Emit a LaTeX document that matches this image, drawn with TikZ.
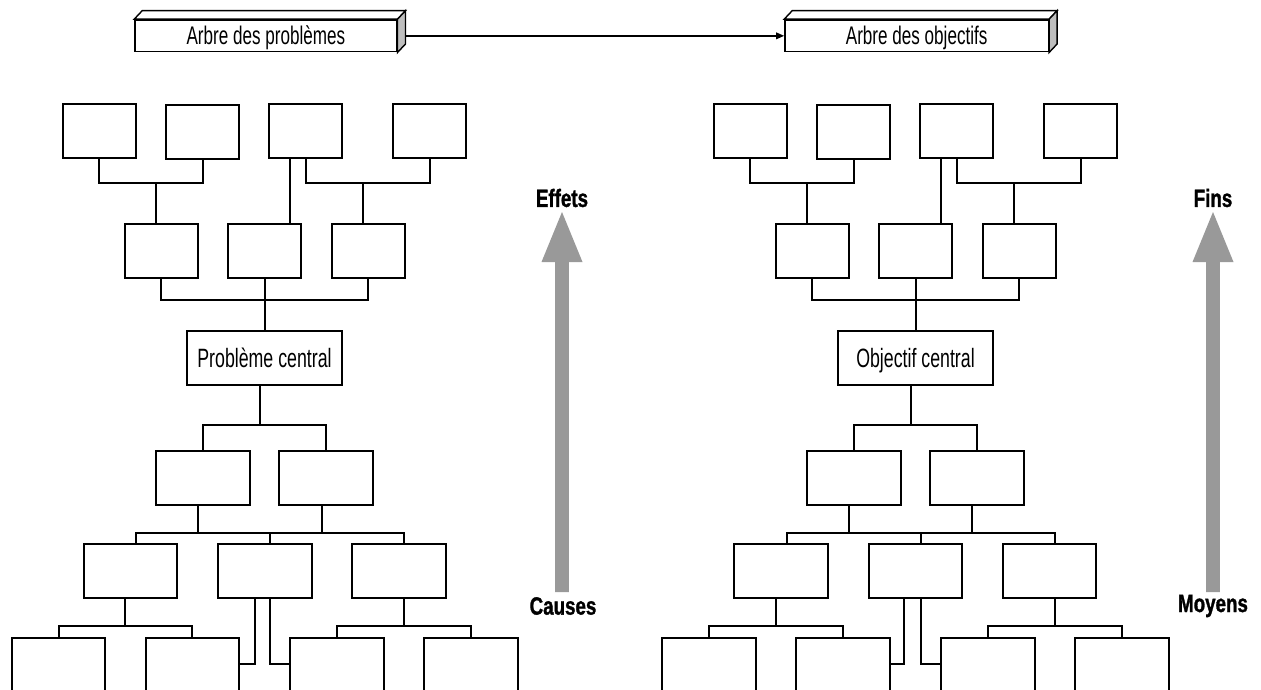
\documentclass[tikz,border=0pt]{standalone}
\usepackage{fontspec}
\setmainfont{Liberation Sans}
\newfontfamily\narrowfont[FakeStretch=0.67]{Liberation Sans}
\newfontfamily\labelfont[FakeStretch=0.75,FakeBold=1.2]{Liberation Sans}
\usetikzlibrary{arrows.meta}

\definecolor{arrowgray}{HTML}{999999}
\definecolor{sidegray}{HTML}{BEBEBE}

\tikzset{
  box/.style={draw, line width=2pt, fill=white, inner sep=0pt, minimum height=54pt},
  upbox/.style={box, minimum width=73pt},
  lowbox/.style={box, minimum width=94pt},
  corebox/.style={box, minimum width=155.6pt, text height=19pt, text depth=0pt,
    font=\narrowfont\fontsize{26.5}{30}\selectfont},
  wire/.style={line width=2pt},
  hdr/.style={draw, line width=1.6pt, fill=white, inner sep=0pt, minimum height=31.7pt,
    text height=18pt, text depth=0pt, font=\narrowfont\fontsize{25.5}{30}\selectfont},
  face/.style={draw, line width=1.4pt, line join=miter},
  flow/.style={fill=arrowgray},
  tag/.style={inner sep=0pt, font=\labelfont\bfseries\fontsize{25}{29}\selectfont},
}

% upper half of a tree: two rows of boxes, the central box and the row below it
\newcommand\uppertree[1]{%
  \node[upbox] (t1) at (99.35,131) {};
  \node[upbox] (t2) at (202.85,131.8) {};
  \node[upbox] (t3) at (305.85,131) {};
  \node[upbox] (t4) at (429.85,131) {};
  \node[upbox] (m1) at (161.2,251) {};
  \node[upbox] (m2) at (264.5,251) {};
  \node[upbox] (m3) at (368,251) {};
  \node[corebox] (c) at (264.5,358) {#1};
  \node[lowbox, minimum width=93.7pt] (d1) at (202.85,478) {};
  \node[lowbox] (d2) at (326.3,478) {};
  \coordinate (ja) at (156,183);
  \coordinate (jb) at (362.7,183);
  \coordinate (jc) at (290.3,0);
  \coordinate (jd) at (264.5,300);
  \coordinate (je) at (259.7,425.3);
  \draw[wire] (t1.south) |- (ja) -| (t2.south);
  \draw[wire] (ja) -- (m1.north -| ja);
  \draw[wire] (t3.south) |- (jb) -| (t4.south);
  \draw[wire] (jb) -- (m3.north -| jb);
  \draw[wire] (t3.south -| jc) -- (m2.north -| jc);
  \draw[wire] (m1.south) |- (jd) -| (m3.south);
  \draw[wire] (m2.south) -- (c.north);
  \draw[wire] (c.south -| je) -- (je);
  \draw[wire] (d1.north) |- (je) -| (d2.north);
}

% 3-D slab drawn behind a header node: top face and shaded right face
\newcommand\slab[1]{%
  \draw[face, fill=white] (#1.north west) -- ++(8,-8.5)
    -- ([shift={(8,-8.5)}]#1.north east) -- (#1.north east) -- cycle;
  \draw[face, fill=sidegray] (#1.north east) -- ([shift={(8,-8.5)}]#1.north east)
    -- ([shift={(8,-8.5)}]#1.south east) -- (#1.south east) -- cycle;
}

% broad grey upward arrow centred on x = #1
\newcommand\flowarrow[1]{%
  \fill[flow] (#1-6.8,592) -- (#1-6.8,262) -- (#1-20.5,262) -- (#1,212)
    -- (#1+20.5,262) -- (#1+6.8,262) -- (#1+6.8,592) -- cycle;
}

\begin{document}
\begin{tikzpicture}[x=1pt, y=-1pt]
\useasboundingbox (0,0) rectangle (1261,690);
\clip (0,0) rectangle (1261,690);

% ---------- headers ----------
\node[hdr, minimum width=261.7pt] (hp) at (265.85,35.85) {Arbre des problèmes};
\slab{hp}
\node[hdr, minimum width=263.3pt] (ho) at (916.65,35.85) {Arbre des objectifs};
\slab{ho}
\draw[line width=1.5pt, -{Triangle[length=8pt,width=6.5pt]}] ([xshift=8pt]hp.east) -- (ho.west);

% ---------- problem tree ----------
\begin{scope}[name prefix=L-]
  \uppertree{Problème central}
  \node[lowbox, minimum width=93.3pt] (f) at (130.35,571) {};
  \node[lowbox] (g) at (264.65,571) {};
  \node[lowbox] (h) at (398.9,571) {};
  \node[lowbox, minimum width=93.6pt] (i) at (58.5,665) {};
  \node[lowbox, minimum width=93.3pt] (j) at (192.35,665) {};
  \node[lowbox, minimum width=93.6pt] (k) at (336.8,665) {};
  \node[lowbox, minimum width=93.4pt] (l) at (470.9,665) {};
  \coordinate (kf) at (135.7,532.5);
  \coordinate (kg) at (270,532.5);
  \coordinate (kh) at (404,532.5);
  \coordinate (kd1) at (198,532.5);
  \coordinate (kd2) at (322,532.5);
  \coordinate (kF) at (125,626);
  \coordinate (kH) at (404,626);
  \coordinate (gl) at (254.7,664.3);
  \coordinate (gr) at (270,664.3);
  \draw[wire] (f.north -| kf) |- (kh) -- (h.north -| kh);
  \draw[wire] (kg) -- (g.north -| kg);
  \draw[wire] (d1.south -| kd1) -- (kd1);
  \draw[wire] (d2.south -| kd2) -- (kd2);
  \draw[wire] (f.south -| kF) -- (kF);
  \draw[wire] (i.north) |- (kF) -| (j.north);
  \draw[wire] (h.south -| kH) -- (kH);
  \draw[wire] (k.north) |- (kH) -| (l.north);
  \draw[wire] (g.south -| gl) |- (j.east |- gl);
  \draw[wire] (g.south -| gr) |- (k.west |- gr);
\end{scope}

% ---------- objective tree ----------
\begin{scope}[name prefix=R-, xshift=651pt]
  \uppertree{Objectif central}
\end{scope}
\begin{scope}[name prefix=R-]
  \node[lowbox, minimum width=94.1pt] (f) at (780.85,571) {};
  \node[lowbox, minimum width=93pt] (g) at (915.4,571) {};
  \node[lowbox, minimum width=93.4pt] (h) at (1049.5,571) {};
  \node[lowbox] (i) at (708.9,665) {};
  \node[lowbox] (j) at (843,665) {};
  \node[lowbox] (k) at (987.7,665) {};
  \node[lowbox] (l) at (1122,665) {};
  \coordinate (kf) at (786.6,532.5);
  \coordinate (kg) at (920.5,532.5);
  \coordinate (kh) at (1054.5,532.5);
  \coordinate (kd1) at (848.6,532.5);
  \coordinate (kd2) at (971.8,532.5);
  \coordinate (kF) at (775.9,626);
  \coordinate (kH) at (1054.5,626);
  \coordinate (gl) at (904.4,664.3);
  \coordinate (gr) at (920.5,664.3);
  \draw[wire] (f.north -| kf) |- (kh) -- (h.north -| kh);
  \draw[wire] (kg) -- (g.north -| kg);
  \draw[wire] (d1.south -| kd1) -- (kd1);
  \draw[wire] (d2.south -| kd2) -- (kd2);
  \draw[wire] (f.south -| kF) -- (kF);
  \draw[wire] (i.north) |- (kF) -| (j.north);
  \draw[wire] (h.south -| kH) -- (kH);
  \draw[wire] (k.north) |- (kH) -| (l.north);
  \draw[wire] (g.south -| gl) |- (j.east |- gl);
  \draw[wire] (g.south -| gr) |- (k.west |- gr);
\end{scope}

% ---------- direction arrows ----------
\flowarrow{562}
\node[tag] (effets) at (562,198) {Effets};
\node[tag] (causes) at (563,606) {Causes};
\flowarrow{1213}
\node[tag] (fins) at (1213,198) {Fins};
\node[tag] (moyens) at (1213,606) {Moyens};
\end{tikzpicture}
\end{document}
